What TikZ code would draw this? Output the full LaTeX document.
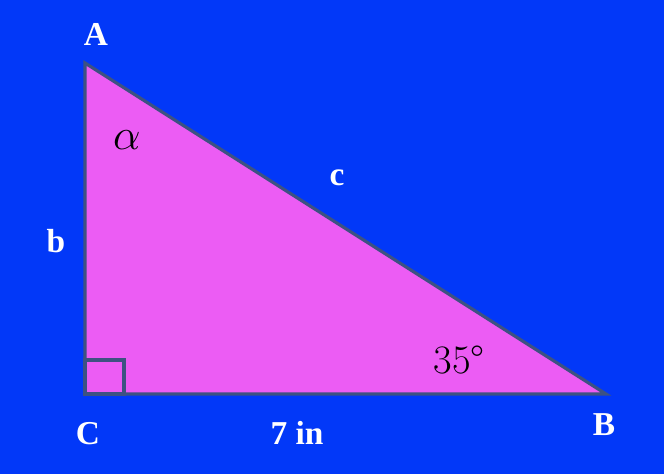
\documentclass[tikz,border=0pt]{standalone}
\usepackage{fontspec}
\newfontfamily\labelfont{Liberation Serif}
\usepackage{tikz}
\usetikzlibrary{positioning, calc}

\definecolor{bgblue}{HTML}{0238F8}
\definecolor{trifill}{HTML}{EC5CF4}
\definecolor{edgegray}{HTML}{3D5282}

\begin{document}
\begin{tikzpicture}[
    x=0.02cm, y=-0.02cm,
    vertex/.style={text=white, font=\labelfont\bfseries\fontsize{19}{19}\selectfont, inner sep=0pt},
    side/.style={text=white, font=\labelfont\bfseries\fontsize{19}{19}\selectfont, inner sep=0pt},
    angle/.style={text=black, font=\fontsize{23}{23}\selectfont, inner sep=0pt},
    edge/.style={draw=edgegray, line width=1.8pt, line join=miter}
]
    % Background
    \fill[bgblue] (0,0) rectangle (664,474);
    \useasboundingbox (0,0) rectangle (664,474);

    % Corners
    \coordinate (A) at (85,63);
    \coordinate (C) at (85,394);
    \coordinate (B) at (606,394);

    % Triangle
    \filldraw[edge, fill=trifill] (A) -- (B) -- (C) -- cycle;
    \draw[edge] (C) rectangle ++(39,-34);

    % Corner labels
    \node[vertex] (lblA) at (96,34) {A};
    \node[vertex] (lblC) at (88,434) {C};
    \node[vertex] (lblB) at (604,425) {B};

    % Side labels
    \node[side] (lblc) at (337,178) {c};
    \node[side] (lblb) at (56,241) {b};
    \node[side] (lbla) at (297,433) {7 in};

    % Angles
    \node[angle, font=\fontsize{27}{27}\selectfont] (alpha) at (127,140) {$\alpha$};
    \node[angle] (beta) at (459,360) {35°};
\end{tikzpicture}
\end{document}
